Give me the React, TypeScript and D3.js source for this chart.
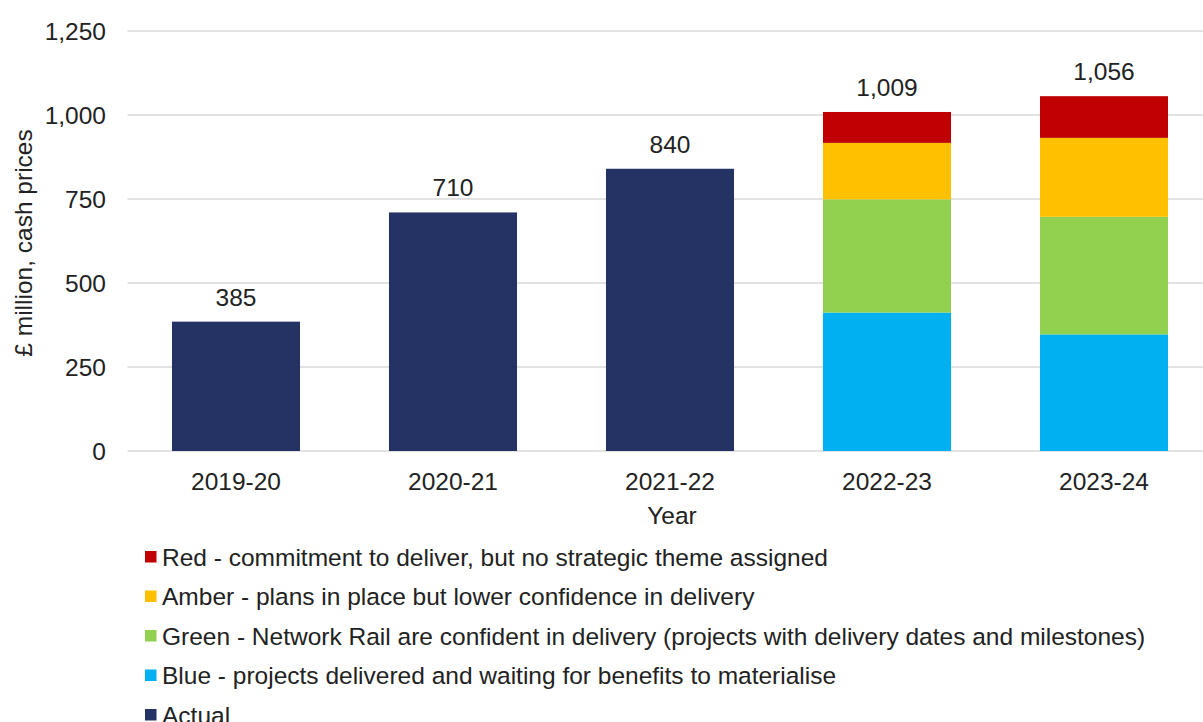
import React from "react";
import * as d3 from "d3";

const years = ["2019-20", "2020-21", "2021-22", "2022-23", "2023-24"];
const actual = [385, 710, 840, 0, 0];
const blue = [0, 0, 0, 412, 347];
const green = [0, 0, 0, 337, 350];
const amber = [0, 0, 0, 168, 235];
const red = [0, 0, 0, 92, 124];
const totals = [385, 710, 840, 1009, 1056];
const yTicks = [0, 250, 500, 750, 1000, 1250];

const seriesKeys = ["actual", "blue", "green", "amber", "red"];
const seriesColors: Record<string, string> = {
  actual: "#253264",
  blue: "#00B0F0",
  green: "#92D050",
  amber: "#FFC000",
  red: "#C00000",
};
const legendItems = [
  { key: "red", label: "Red - commitment to deliver, but no strategic theme assigned" },
  { key: "amber", label: "Amber - plans in place but lower confidence in delivery" },
  { key: "green", label: "Green - Network Rail are confident in delivery (projects with delivery dates and milestones)" },
  { key: "blue", label: "Blue - projects delivered and waiting for benefits to materialise" },
  { key: "actual", label: "Actual" },
];

export default function App() {
  const W = 1203, H = 722;
  const left = 127.5, right = 1212.5, top = 31, bottom = 451;
  const x = d3.scaleBand().domain(years).range([left, right]).paddingInner(0.41).paddingOuter(0.205);
  const y = d3.scaleLinear().domain([0, 1250]).range([bottom, top]);
  const rows = years.map((yr, i) => ({
    year: yr,
    actual: actual[i],
    blue: blue[i],
    green: green[i],
    amber: amber[i],
    red: red[i],
  }));
  const stack = d3.stack<any>().keys(seriesKeys)(rows);
  const fmt = d3.format(",");
  const font = "'Liberation Sans', Arial, sans-serif";
  const fs = 24.5;

  return (
    <svg width={W} height={H} style={{ position: "absolute", left: 0, top: 0, background: "#fff" }} fontFamily={font}>
      {yTicks.map((t) => (
        <g key={t}>
          <line x1={left} x2={right} y1={y(t)} y2={y(t)} stroke="#d9d9d9" strokeWidth={1.5} />
          <text x={106} y={y(t)} dy="0.35em" textAnchor="end" fontSize={fs} fill="#222">{fmt(t)}</text>
        </g>
      ))}
      {stack.map((s) =>
        s.map((d, i) =>
          d[1] - d[0] > 0 ? (
            <rect
              key={s.key + i}
              x={x(years[i])}
              width={x.bandwidth()}
              y={y(d[1])}
              height={y(d[0]) - y(d[1])}
              fill={seriesColors[s.key]}
            />
          ) : null
        )
      )}
      {years.map((yr, i) => (
        <text key={yr + "l"} x={(x(yr) as number) + x.bandwidth() / 2} y={y(totals[i]) - 16} textAnchor="middle" fontSize={fs} fill="#222">
          {fmt(totals[i])}
        </text>
      ))}
      {years.map((yr) => (
        <text key={yr} x={(x(yr) as number) + x.bandwidth() / 2} y={490} textAnchor="middle" fontSize={fs} fill="#222">
          {yr}
        </text>
      ))}
      <text x={672} y={524} textAnchor="middle" fontSize={fs} fill="#222">Year</text>
      <text transform={`translate(32,243) rotate(-90)`} textAnchor="middle" fontSize={fs} fill="#222">£ million, cash prices</text>
      {legendItems.map((it, i) => (
        <g key={it.key} transform={`translate(145,${557 + i * 39.5})`}>
          <rect x={0} y={-6} width={11.5} height={11.5} fill={seriesColors[it.key]} />
          <text x={17} y={0} dy="0.35em" fontSize={fs} fill="#222">{it.label}</text>
        </g>
      ))}
    </svg>
  );
}
